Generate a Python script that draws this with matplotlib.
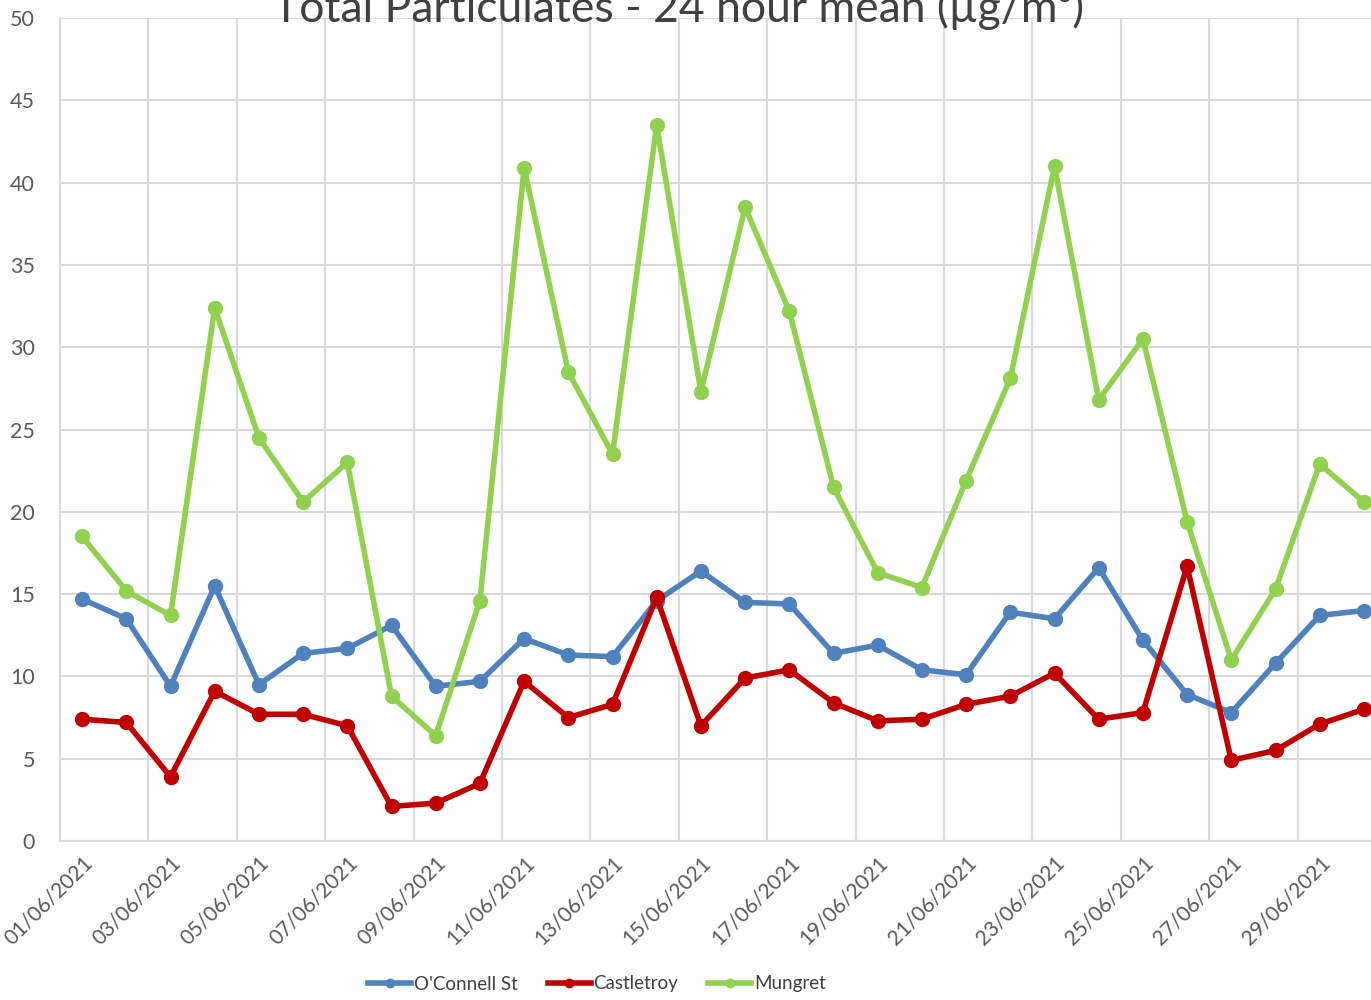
import datetime
import matplotlib
matplotlib.use('Agg')
import matplotlib.pyplot as plt

days = [datetime.date(2021, 6, d) for d in range(1, 31)]
date_labels = [d.strftime('%d/%m/%Y') for d in days]

oconnell = [14.7, 13.5, 9.4, 15.5, 9.5, 11.4, 11.7, 13.1, 9.4, 9.7,
            12.3, 11.3, 11.2, 14.6, 16.4, 14.5, 14.4, 11.4, 11.9, 10.4,
            10.1, 13.9, 13.5, 16.6, 12.2, 8.9, 7.8, 10.8, 13.7, 14.0]
castletroy = [7.4, 7.2, 3.9, 9.1, 7.7, 7.7, 7.0, 2.1, 2.3, 3.5,
              9.7, 7.5, 8.3, 14.8, 7.0, 9.9, 10.4, 8.4, 7.3, 7.4,
              8.3, 8.8, 10.2, 7.4, 7.8, 16.7, 4.9, 5.5, 7.1, 8.0]
mungret = [18.5, 15.2, 13.7, 32.4, 24.5, 20.6, 23.0, 8.8, 6.4, 14.6,
           40.9, 28.5, 23.5, 43.5, 27.3, 38.5, 32.2, 21.5, 16.3, 15.4,
           21.9, 28.1, 41.0, 26.8, 30.5, 19.4, 11.0, 15.3, 22.9, 20.6]

plt.rcParams['font.family'] = ['Lato', 'DejaVu Sans']
text_color = '#595959'
grid_color = '#D9D9D9'

fig = plt.figure(figsize=(13.71, 10), dpi=100)
ax = fig.add_axes([60 / 1371, 159 / 1000, 1326 / 1371, 823 / 1000])

x = list(range(len(days)))
ax.plot(x, oconnell, color='#4F81BD', lw=4, marker='o', ms=10, label="O'Connell St", zorder=3)
ax.plot(x, castletroy, color='#C00000', lw=4, marker='o', ms=10, label='Castletroy', zorder=3)
ax.plot(x, mungret, color='#92D050', lw=4, marker='o', ms=10, label='Mungret', zorder=3)

ax.set_xlim(-0.5, 29.5)
ax.set_ylim(0, 50)
ax.set_yticks(range(0, 51, 5))
ax.set_xticks(x[::2])
ax.set_xticklabels(date_labels[::2], rotation=45, ha='right', rotation_mode='anchor')
ax.set_xticks([i + 0.5 for i in range(1, 30, 2)], minor=True)

ax.grid(True, which='minor', axis='x', color=grid_color, lw=1.5)
ax.grid(True, which='major', axis='y', color=grid_color, lw=1.5)
ax.set_axisbelow(True)
ax.tick_params(axis='both', which='both', length=0, colors=text_color)
ax.tick_params(axis='y', pad=18, labelsize=15.5)
ax.tick_params(axis='x', pad=8, labelsize=15)

for side in ['top', 'right']:
    ax.spines[side].set_visible(False)
ax.spines['left'].set_color(grid_color)
ax.spines['bottom'].set_color(grid_color)
ax.spines['left'].set_linewidth(1.5)
ax.spines['bottom'].set_linewidth(1.5)

# title is clipped at the top edge, as in the source image
fig.text(679 / 1371, 1 - 22 / 1000, 'Total Particulates - 24 hour mean (µg/m³)',
         ha='center', va='baseline', fontsize=32, color='#404040')

fig.legend(loc='center', bbox_to_anchor=(597 / 1371, 1 - 984 / 1000), ncol=3,
           frameon=False, fontsize=13.5, labelcolor='#404040', handlelength=2.3,
           handletextpad=0.15, columnspacing=1.6, markerscale=0.6)

fig.savefig('out.png', dpi=100)
